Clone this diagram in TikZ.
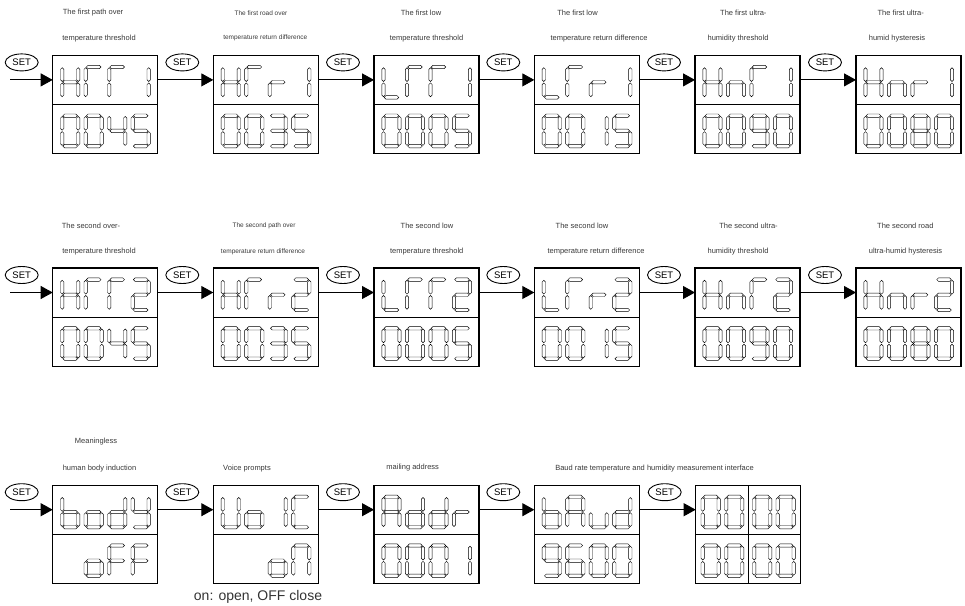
\documentclass[tikz,border=0pt]{standalone}
\usepackage{fontspec}
\setmainfont{Liberation Sans}
\usetikzlibrary{arrows.meta,shapes.geometric}
% seven-segment geometry
\def\SW{8}\def\SH{15.2}\def\ST{1.7}\def\SG{0.7}
\newcommand\HSeg[1]{\draw[segst] ({-\SW+\SG},{#1}) -- ({-\SW+\SG+\ST},{#1-\ST}) -- ({\SW-\SG-\ST},{#1-\ST}) -- ({\SW-\SG},{#1}) -- ({\SW-\SG-\ST},{#1+\ST}) -- ({-\SW+\SG+\ST},{#1+\ST}) -- cycle;}
\newcommand\VSeg[3]{\draw[segst] ({#1},{#2+\SG}) -- ({#1+\ST},{#2+\SG+\ST}) -- ({#1+\ST},{#3-\SG-\ST}) -- ({#1},{#3-\SG}) -- ({#1-\ST},{#3-\SG-\ST}) -- ({#1-\ST},{#2+\SG+\ST}) -- cycle;}
\expandafter\def\csname Sega\endcsname{\HSeg{-\SH}}
\expandafter\def\csname Segb\endcsname{\VSeg{\SW}{-\SH}{0}}
\expandafter\def\csname Segc\endcsname{\VSeg{\SW}{0}{\SH}}
\expandafter\def\csname Segd\endcsname{\HSeg{\SH}}
\expandafter\def\csname Sege\endcsname{\VSeg{-\SW}{0}{\SH}}
\expandafter\def\csname Segf\endcsname{\VSeg{-\SW}{-\SH}{0}}
\expandafter\def\csname Segg\endcsname{\HSeg{0}}
\def\ChrLoop#1{\ifx#1\relax\else\csname Seg#1\endcsname\expandafter\ChrLoop\fi}
\newcommand\Chr[1]{\edef\chrtmp{#1}\expandafter\ChrLoop\chrtmp\relax}
\newcommand\Cell[3]{\begin{scope}[shift={({#1},{#2})}]\Chr{#3}\end{scope}}
% four cells: box left x, digit centre y, four segment sets
\newcommand\Quad[6]{\Cell{#1+17.5}{#2}{#3}\Cell{#1+41}{#2}{#4}\Cell{#1+64.5}{#2}{#5}\Cell{#1+88}{#2}{#6}}
\newcommand\LcdBox[3]{\node[lcd] (#1) at ({#2+52.5},{#3+49.25}) {};\draw[line width=1.1pt] (#1.west) -- (#1.east);}
\newcommand\SetAt[3]{\node[setst] (#1) at ({#2-31},{#3+7}) {SET};}
\begin{document}
\begin{tikzpicture}[x=1pt,y=-1pt,
  lcd/.style={draw, line width=1.1pt, minimum width=105pt, minimum height=98.5pt, inner sep=0pt, outer sep=0pt},
  setst/.style={draw, ellipse, line width=0.9pt, minimum width=33pt, minimum height=17pt, inner sep=0pt, font=\fontsize{9.5}{10}\selectfont},
  arr/.style={line width=0.9pt, -{Triangle[length=12pt,width=13pt]}},
  lab/.style={font=\fontsize{7.5}{8}\selectfont, text=black!78, inner sep=0pt},
  labs/.style={font=\fontsize{6.5}{7}\selectfont, text=black!78, inner sep=0pt},
  note/.style={font=\fontsize{14}{16}\selectfont, text=black!80, inner sep=0pt},
  segst/.style={line width=0.45pt, line join=miter}]
\useasboundingbox (0,0) rectangle (965,605);

% ---------------- Row 1 ----------------
\LcdBox{b11}{52.7}{55.4}
\Quad{52.7}{82.2}{bcefg}{aef}{aef}{bc}
\Quad{52.7}{130.9}{abcdef}{abcdef}{bcfg}{acdfg}
\LcdBox{b12}{213.3}{55.4}
\Quad{213.3}{82.2}{bcefg}{aef}{eg}{bc}
\Quad{213.3}{130.9}{abcdef}{abcdef}{abcdg}{acdfg}
\LcdBox{b13}{374}{55.4}
\Quad{374}{82.2}{def}{aef}{aef}{bc}
\Quad{374}{130.9}{abcdef}{abcdef}{abcdef}{acdfg}
\LcdBox{b14}{534.3}{55.4}
\Quad{534.3}{82.2}{def}{aef}{eg}{bc}
\Quad{534.3}{130.9}{abcdef}{abcdef}{bc}{acdfg}
\LcdBox{b15}{695}{55.4}
\Quad{695}{82.2}{bcefg}{ceg}{aef}{bc}
\Quad{695}{130.9}{abcdef}{abcdef}{abcdfg}{abcdef}
\LcdBox{b16}{856}{55.4}
\Quad{856}{82.2}{bcefg}{ceg}{eg}{bc}
\Quad{856}{130.9}{abcdef}{abcdef}{abcdefg}{abcdef}

\SetAt{s11}{52.7}{55.4}\SetAt{s12}{213.3}{55.4}\SetAt{s13}{374}{55.4}
\SetAt{s14}{534.3}{55.4}\SetAt{s15}{695}{55.4}\SetAt{s16}{856}{55.4}

\coordinate (st1) at ([yshift=24.75pt,xshift=-42.7pt]b11.west);
\draw[arr] (st1) -- ([yshift=24.75pt]b11.west);
\draw[arr] ([yshift=24.75pt]b11.east) -- ([yshift=24.75pt]b12.west);
\draw[arr] ([yshift=24.75pt]b12.east) -- ([yshift=24.75pt]b13.west);
\draw[arr] ([yshift=24.75pt]b13.east) -- ([yshift=24.75pt]b14.west);
\draw[arr] ([yshift=24.75pt]b14.east) -- ([yshift=24.75pt]b15.west);
\draw[arr] ([yshift=24.75pt]b15.east) -- ([yshift=24.75pt]b16.west);

\node[lab]  (t11a) at (93,12.7)  {The first path over};
\node[lab]  (t11b) at (99,38.3)  {temperature threshold};
\node[labs] (t12a) at (261,12.7) {The first road over};
\node[labs] (t12b) at (265.3,38.3) {temperature return difference};
\node[lab]  (t13a) at (421,12.7) {The first low};
\node[lab]  (t13b) at (426.5,38.3) {temperature threshold};
\node[lab]  (t14a) at (577.5,12.7) {The first low};
\node[lab]  (t14b) at (599,38.3) {temperature return difference};
\node[lab]  (t15a) at (743.3,12.7) {The first ultra-};
\node[lab]  (t15b) at (738,38.3) {humidity threshold};
\node[lab]  (t16a) at (900.7,12.7) {The first ultra-};
\node[lab]  (t16b) at (897,38.3) {humid hysteresis};

% ---------------- Row 2 ----------------
\LcdBox{b21}{52.7}{268}
\Quad{52.7}{294.8}{bcefg}{aef}{aef}{abdeg}
\Quad{52.7}{343.5}{abcdef}{abcdef}{bcfg}{acdfg}
\LcdBox{b22}{213.3}{268}
\Quad{213.3}{294.8}{bcefg}{aef}{eg}{abdeg}
\Quad{213.3}{343.5}{abcdef}{abcdef}{abcdg}{acdfg}
\LcdBox{b23}{374}{268}
\Quad{374}{294.8}{def}{aef}{aef}{abdeg}
\Quad{374}{343.5}{abcdef}{abcdef}{abcdef}{acdfg}
\LcdBox{b24}{534.3}{268}
\Quad{534.3}{294.8}{def}{aef}{eg}{abdeg}
\Quad{534.3}{343.5}{abcdef}{abcdef}{bc}{acdfg}
\LcdBox{b25}{695}{268}
\Quad{695}{294.8}{bcefg}{ceg}{aef}{abdeg}
\Quad{695}{343.5}{abcdef}{abcdef}{abcdfg}{abcdef}
\LcdBox{b26}{856}{268}
\Quad{856}{294.8}{bcefg}{ceg}{eg}{abdeg}
\Quad{856}{343.5}{abcdef}{abcdef}{abcdefg}{abcdef}

\SetAt{s21}{52.7}{268}\SetAt{s22}{213.3}{268}\SetAt{s23}{374}{268}
\SetAt{s24}{534.3}{268}\SetAt{s25}{695}{268}\SetAt{s26}{856}{268}

\coordinate (st2) at ([yshift=24.75pt,xshift=-42.7pt]b21.west);
\draw[arr] (st2) -- ([yshift=24.75pt]b21.west);
\draw[arr] ([yshift=24.75pt]b21.east) -- ([yshift=24.75pt]b22.west);
\draw[arr] ([yshift=24.75pt]b22.east) -- ([yshift=24.75pt]b23.west);
\draw[arr] ([yshift=24.75pt]b23.east) -- ([yshift=24.75pt]b24.west);
\draw[arr] ([yshift=24.75pt]b24.east) -- ([yshift=24.75pt]b25.west);
\draw[arr] ([yshift=24.75pt]b25.east) -- ([yshift=24.75pt]b26.west);

\node[lab]  (t21a) at (91,225.7)  {The second over-};
\node[lab]  (t21b) at (99,251.7)  {temperature threshold};
\node[labs] (t22a) at (264,225.7) {The second path over};
\node[labs] (t22b) at (263,251.7) {temperature return difference};
\node[lab]  (t23a) at (427,225.7) {The second low};
\node[lab]  (t23b) at (426.7,251.7) {temperature threshold};
\node[lab]  (t24a) at (582,225.7) {The second low};
\node[lab]  (t24b) at (596,251.7) {temperature return difference};
\node[lab]  (t25a) at (748.5,225.7) {The second ultra-};
\node[lab]  (t25b) at (738,251.7) {humidity threshold};
\node[lab]  (t26a) at (905.3,225.7) {The second road};
\node[lab]  (t26b) at (905.5,251.7) {ultra-humid hysteresis};

% ---------------- Row 3 ----------------
\LcdBox{b31}{52.7}{485.2}
\Quad{52.7}{512}{cdefg}{cdeg}{bcdeg}{bcdfg}
\Quad{52.7}{560.7}{}{cdeg}{aefg}{aefg}
\LcdBox{b32}{213.3}{485.2}
\Quad{213.3}{512}{bcdef}{cdeg}{bc}{adef}
\Quad{213.3}{560.7}{}{}{cdeg}{abcef}
\LcdBox{b33}{374}{485.2}
\Quad{374}{512}{abcefg}{bcdeg}{bcdeg}{eg}
\Quad{374}{560.7}{abcdef}{abcdef}{abcdef}{bc}
\LcdBox{b34}{534.3}{485.2}
\Quad{534.3}{512}{cdefg}{abcefg}{cde}{bcdeg}
\Quad{534.3}{560.7}{abcdfg}{acdefg}{abcdef}{abcdef}
\LcdBox{b35}{695.7}{485.2}
\draw[line width=1.1pt] (b35.north) -- (b35.south);
\Cell{695.7+15}{512}{abcdef}\Cell{695.7+38.5}{512}{abcdef}
\Cell{695.7+66.5}{512}{abcdef}\Cell{695.7+90}{512}{abcdef}
\Cell{695.7+15}{560.7}{abcdef}\Cell{695.7+38.5}{560.7}{abcdef}
\Cell{695.7+66.5}{560.7}{abcdef}\Cell{695.7+90}{560.7}{abcdef}

\SetAt{s31}{52.7}{485.2}\SetAt{s32}{213.3}{485.2}\SetAt{s33}{374}{485.2}
\SetAt{s34}{534.3}{485.2}\SetAt{s35}{695.7}{485.2}

\coordinate (st3) at ([yshift=24.75pt,xshift=-42.7pt]b31.west);
\draw[arr] (st3) -- ([yshift=24.75pt]b31.west);
\draw[arr] ([yshift=24.75pt]b31.east) -- ([yshift=24.75pt]b32.west);
\draw[arr] ([yshift=24.75pt]b32.east) -- ([yshift=24.75pt]b33.west);
\draw[arr] ([yshift=24.75pt]b33.east) -- ([yshift=24.75pt]b34.west);
\draw[arr] ([yshift=24.75pt]b34.east) -- ([yshift=24.75pt]b35.west);

\node[lab] (t31a) at (96,441.7)  {Meaningless};
\node[lab] (t31b) at (99.5,468.3) {human body induction};
\node[lab] (t32)  at (247,468.3) {Voice prompts};
\node[lab] (t33)  at (412.7,467.3) {mailing address};
\node[lab] (t34)  at (654.5,468.3) {Baud rate temperature and humidity measurement interface};
\node[note] (n32) at (258,596.5) {on: open, OFF close};
\end{tikzpicture}
\end{document}
